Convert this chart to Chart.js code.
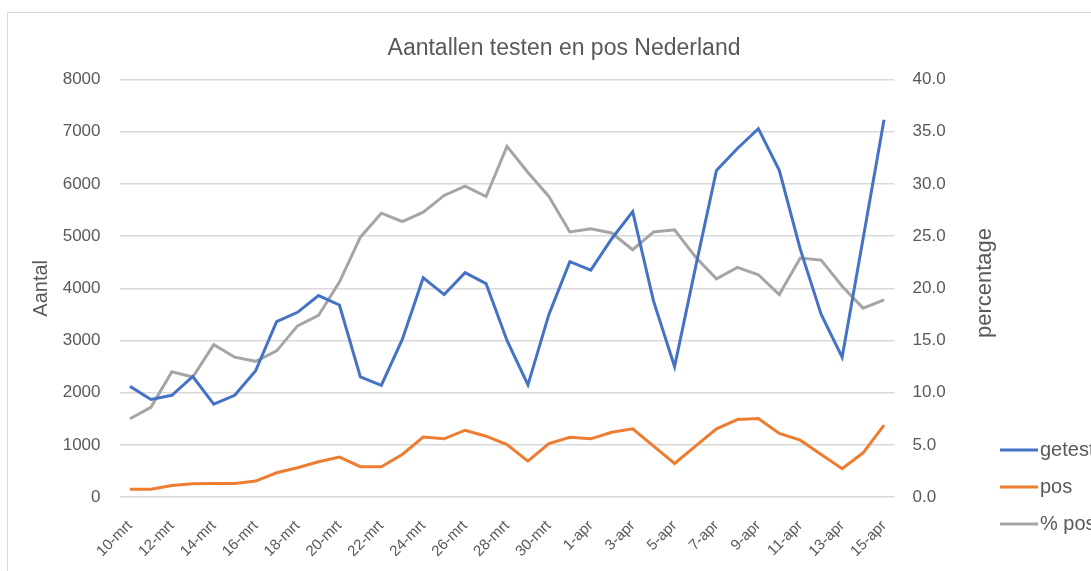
<!DOCTYPE html>
<html>
<head>
<meta charset="utf-8">
<script src="https://cdn.jsdelivr.net/npm/chart.js@4"></script>
<style>
  html, body { margin: 0; padding: 0; background: #fff; overflow: hidden; }
  #wrap { position: relative; width: 1091px; height: 571px; overflow: hidden; }
  #frame { position: absolute; left: 7px; top: 12px; width: 1120px; height: 600px;
           border: 1px solid #d9d9d9; pointer-events: none; }
  canvas { position: absolute; left: 0; top: 0; }
</style>
</head>
<body>
<div id="wrap">
  <canvas id="chart" width="1100" height="571"></canvas>
  <div id="frame"></div>
</div>
<script>
// Data
const labels = [
  "10-mrt", "11-mrt", "12-mrt", "13-mrt", "14-mrt", "15-mrt", "16-mrt", "17-mrt",
  "18-mrt", "19-mrt", "20-mrt", "21-mrt", "22-mrt", "23-mrt", "24-mrt", "25-mrt",
  "26-mrt", "27-mrt", "28-mrt", "29-mrt", "30-mrt", "31-mrt",
  "1-apr", "2-apr", "3-apr", "4-apr", "5-apr", "6-apr", "7-apr", "8-apr",
  "9-apr", "10-apr", "11-apr", "12-apr", "13-apr", "14-apr", "15-apr"
];

const getest = [
  2120, 1870, 1950, 2310, 1780, 1950, 2420, 3360, 3540, 3860, 3680, 2300,
  2140, 3020, 4200, 3880, 4300, 4090, 3000, 2150, 3500, 4510, 4350, 4950,
  5470, 3750, 2500, 4400, 6260, 6680, 7060, 6260, 4750, 3500, 2680, 4950, 7230
];

const pos = [
  150, 150, 220, 255, 260, 260, 305, 465, 560, 675, 764, 580,
  580, 815, 1150, 1115, 1280, 1165, 1006, 688, 1025, 1146, 1115, 1242,
  1306, 975, 643, 975, 1306, 1484, 1503, 1217, 1089, 815, 541, 847, 1376
];

const pctPos = [
  7.5, 8.6, 12.0, 11.5, 14.6, 13.4, 13.0, 14.0, 16.4, 17.4, 20.6, 24.9,
  27.2, 26.4, 27.3, 28.9, 29.8, 28.8, 33.6, 31.1, 28.8, 25.4, 25.7, 25.3,
  23.7, 25.4, 25.6, 23.0, 20.9, 22.0, 21.3, 19.4, 22.9, 22.7, 20.2, 18.1, 18.9
];

const seriesNames = ["getest", "pos", "% pos"];
const seriesColors = ["#4472c4", "#ed7d31", "#a5a5a5"];

const textColor = "#595959";
const gridColor = "#d9d9d9";
const fontFamily = '"Liberation Sans", Arial, sans-serif';

// Excel-achtige legenda + rechter astitel (van onder naar boven)
const excelExtras = {
  id: "excelExtras",
  afterDraw(chart) {
    const ctx = chart.ctx;

    ctx.save();
    ctx.font = "22px " + fontFamily;
    ctx.fillStyle = textColor;
    ctx.textAlign = "center";
    ctx.textBaseline = "middle";
    ctx.translate(985, 283);
    ctx.rotate(-Math.PI / 2);
    ctx.fillText("percentage", 0, 0);
    ctx.restore();

    ctx.save();
    ctx.font = "20px " + fontFamily;
    ctx.textAlign = "left";
    ctx.textBaseline = "middle";
    chart.data.datasets.forEach((ds, i) => {
      const y = 450 + i * 37;
      ctx.strokeStyle = ds.borderColor;
      ctx.lineWidth = 3;
      ctx.beginPath();
      ctx.moveTo(1000, y);
      ctx.lineTo(1038, y);
      ctx.stroke();
      ctx.fillStyle = textColor;
      ctx.fillText(ds.label, 1040, y);
    });
    ctx.restore();
  },
};

function lineDataset(label, data, color, axis) {
  return {
    label,
    data,
    yAxisID: axis,
    borderColor: color,
    backgroundColor: color,
    borderWidth: 3,
    pointRadius: 0,
    tension: 0,
  };
}

new Chart(document.getElementById("chart").getContext("2d"), {
  type: "line",
  data: {
    labels,
    datasets: [
      lineDataset(seriesNames[0], getest, seriesColors[0], "y"),
      lineDataset(seriesNames[1], pos, seriesColors[1], "y"),
      lineDataset(seriesNames[2], pctPos, seriesColors[2], "y1"),
    ],
  },
  options: {
    responsive: false,
    animation: false,
    layout: { padding: { left: 28, right: 0, top: 0, bottom: 0 } },
    plugins: {
      legend: { display: false },
      tooltip: { enabled: false },
      title: {
        display: true,
        text: "Aantallen testen en pos Nederland",
        color: textColor,
        font: { family: fontFamily, size: 23, weight: "normal" },
        padding: { top: 35, bottom: 17 },
      },
    },
    scales: {
      x: {
        offset: true,
        grid: { display: false },
        border: { display: false },
        afterFit(scale) { scale.height = 74; },
        ticks: {
          autoSkip: false,
          maxRotation: 45,
          minRotation: 45,
          padding: 12,
          color: textColor,
          font: { family: fontFamily, size: 15 },
          callback: (value, index) => (index % 2 === 0 ? labels[index] : ""),
        },
      },
      y: {
        position: "left",
        min: 0,
        max: 8000,
        afterFit(scale) { scale.width = 91.5; },
        ticks: {
          stepSize: 1000,
          padding: 19,
          color: textColor,
          font: { family: fontFamily, size: 17 },
          callback: (value) => String(value),
        },
        grid: { color: gridColor, lineWidth: 1.5, drawTicks: false },
        border: { display: false },
        title: {
          display: true,
          text: "Aantal",
          color: textColor,
          font: { family: fontFamily, size: 20 },
          padding: { top: 1, bottom: 0 },
        },
      },
      y1: {
        position: "right",
        min: 0,
        max: 40,
        afterFit(scale) { scale.width = 205.5; },
        ticks: {
          stepSize: 5,
          padding: 18,
          color: textColor,
          font: { family: fontFamily, size: 17 },
          callback: (value) => value.toFixed(1),
        },
        grid: { display: false, drawTicks: false },
        border: { display: false },
      },
    },
  },
  plugins: [excelExtras],
});
</script>
</body>
</html>
